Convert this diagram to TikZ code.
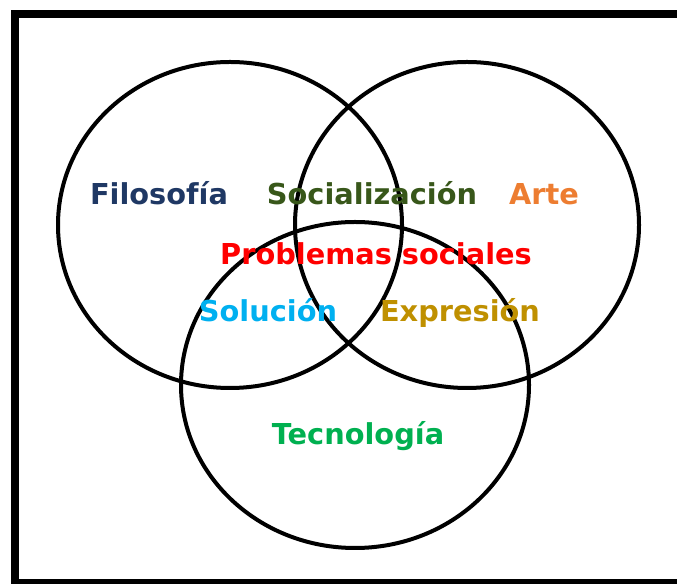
\documentclass[tikz,border=0pt]{standalone}
\usepackage{fontspec}
\setmainfont{DejaVu Sans}
\definecolor{filoblue}{HTML}{1F3864}
\definecolor{socgreen}{HTML}{38571A}
\definecolor{arteorange}{HTML}{ED7D31}
\definecolor{solblue}{HTML}{00B0F0}
\definecolor{expgold}{HTML}{BF9000}
\definecolor{tecgreen}{HTML}{00B050}
\tikzset{
  lbl/.style={inner sep=0pt, anchor=base, font=\fontsize{21.6}{25}\selectfont\bfseries},
  ring/.style={black, line width=3pt}
}
\begin{document}
\begin{tikzpicture}[x=0.75pt, y=0.75pt]
        \useasboundingbox (0, 0) rectangle (677, 584);
        \clip (0, 0) rectangle (677, 584);
        % frame
        \draw [black, line width=6pt] (15, 570) rectangle (720, 1);

        \coordinate (cl) at (230, 359);
        \coordinate (cr) at (467, 359);
        \coordinate (cb) at (355, 199);

        \draw [ring] (cl) ellipse [x radius=172, y radius=163];
        \draw [ring] (cr) ellipse [x radius=172, y radius=163];
        \draw [ring] (cb) ellipse [x radius=174, y radius=163];

        \node [lbl, text=filoblue] at (159, 379) (filo) {Filosofía};
        \node [lbl, text=socgreen] at (372, 379) (soc) {Socialización};
        \node [lbl, text=arteorange] at (544, 379) (arte) {Arte};
        \node [lbl, text=red] at (376, 319) (prob) {Problemas sociales};
        \node [lbl, text=solblue] at (268, 262) (sol) {Solución};
        \node [lbl, text=expgold] at (460, 262) (exp) {Expresión};
        \node [lbl, text=tecgreen] at (358, 139) (tec) {Tecnología};
\end{tikzpicture}
\end{document}
